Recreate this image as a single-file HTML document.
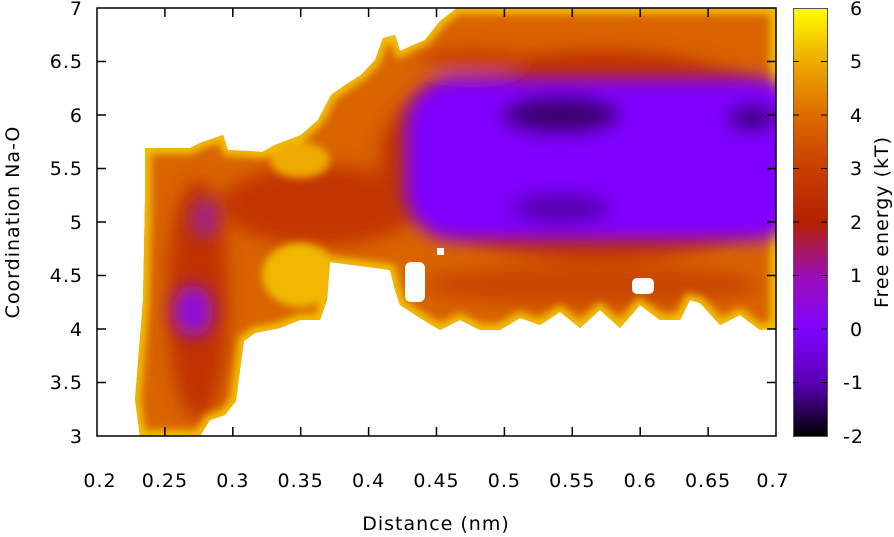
<!DOCTYPE html>
<html><head><meta charset="utf-8"><style>
body{margin:0;background:#fff}
svg{display:block;font-family:"DejaVu Sans","Liberation Sans",sans-serif;font-size:19px;letter-spacing:1px}
</style></head><body>
<svg width="894" height="537" viewBox="0 0 894 537" xmlns="http://www.w3.org/2000/svg">
<defs>
<clipPath id="reg"><polygon id="outl" points="145,148 190,148 200,143 223,135 228,150 249,151 262,152 275,145 301,135 318,120 331,95 345,85 361,75 375,60 383,38 395,35 400,51 425,40 440,21 457,8 776,8 776,328 760,330 740,315 720,325 700,303 690,300 680,320 660,320 640,305 620,328 600,310 580,328 560,312 540,325 520,318 500,330 480,330 460,320 440,330 420,318 400,305 395,290 390,270 330,262 327,300 320,320 300,320 280,328 255,333 244,341 240,370 236,401 225,415 210,420 200,436 140,436 135,400 143,300 145,200"/></clipPath>
<filter id="bl" x="-20%" y="-20%" width="140%" height="140%"><feGaussianBlur stdDeviation="9"/></filter>
<filter id="bl2" x="-20%" y="-20%" width="140%" height="140%"><feGaussianBlur stdDeviation="4"/></filter>
<linearGradient id="cb" x1="0" y1="0" x2="0" y2="1">
<stop offset="0" stop-color="#ffff00"/><stop offset="0.125" stop-color="#eeab00"/><stop offset="0.25" stop-color="#dd6b00"/><stop offset="0.375" stop-color="#c93e00"/><stop offset="0.5" stop-color="#b52000"/><stop offset="0.625" stop-color="#9c0db5"/><stop offset="0.75" stop-color="#8004ff"/><stop offset="0.875" stop-color="#5a00b5"/><stop offset="1" stop-color="#000000"/>
</linearGradient>
</defs>
<g clip-path="url(#reg)">
<rect x="97" y="8" width="679" height="428" fill="#d96400"/>
<g filter="url(#bl)">
<ellipse cx="198" cy="300" rx="30" ry="120" fill="#c03000"/>
<ellipse cx="320" cy="205" rx="100" ry="40" fill="#c23600"/>
<ellipse cx="600" cy="155" rx="220" ry="105" fill="#c03000"/>
<ellipse cx="590" cy="285" rx="170" ry="20" fill="#c84400"/>
</g>
<g filter="url(#bl2)">
<use href="#outl" fill="none" stroke="#f3c000" stroke-width="12"/>
<ellipse cx="300" cy="275" rx="38" ry="32" fill="#f0b800"/>
<ellipse cx="300" cy="160" rx="30" ry="18" fill="#eeaa00"/>
</g>
<g filter="url(#bl)">
<rect x="405" y="78" width="400" height="162" rx="50" fill="#8000ff"/>
<ellipse cx="470" cy="60" rx="50" ry="12" fill="#c84000"/>
<ellipse cx="561" cy="115" rx="60" ry="20" fill="#3c0070"/>
<ellipse cx="561" cy="208" rx="50" ry="16" fill="#5800b0"/>
<ellipse cx="752" cy="118" rx="25" ry="14" fill="#40007a"/>
<ellipse cx="193" cy="311" rx="20" ry="26" fill="#9010e0"/>
<ellipse cx="205" cy="218" rx="14" ry="20" fill="#a02090"/>
</g>
<g fill="#fff">
<rect x="632" y="278" width="22" height="16" rx="5"/>
<rect x="437" y="248" width="7" height="7"/>
<rect x="352" y="294" width="10" height="8"/>
<rect x="405" y="262" width="20" height="40" rx="6"/>
</g>
</g>
<rect x="793" y="8" width="34" height="428" fill="url(#cb)"/>
<g stroke="#000" stroke-width="1" fill="none">
<rect x="793.5" y="8.5" width="34" height="428" stroke="#555"/>
<path d="M793,382.5h6M821,382.5h6M793,329h6M821,329h6M793,275.5h6M821,275.5h6M793,222h6M821,222h6M793,168.5h6M821,168.5h6M793,115h6M821,115h6M793,61.5h6M821,61.5h6"/>
</g>
<g stroke="#000" stroke-width="1.5" fill="none">
<rect x="97" y="8" width="679" height="428"/>
<path d="M164.9,8v9M232.8,8v9M300.7,8v9M368.6,8v9M436.5,8v9M504.4,8v9M572.3,8v9M640.2,8v9M708.1,8v9M164.9,436v-9M232.8,436v-9M300.7,436v-9M368.6,436v-9M436.5,436v-9M504.4,436v-9M572.3,436v-9M640.2,436v-9M708.1,436v-9"/>
<path d="M97,61.5h9M97,115h9M97,168.5h9M97,222h9M97,275.5h9M97,329h9M97,382.5h9M776,61.5h-9M776,115h-9M776,168.5h-9M776,222h-9M776,275.5h-9M776,329h-9M776,382.5h-9"/>
</g>
<g text-anchor="end" fill="#000">
<text x="83" y="15">7</text><text x="83" y="68">6.5</text><text x="83" y="122">6</text><text x="83" y="175">5.5</text><text x="83" y="229">5</text><text x="83" y="282">4.5</text><text x="83" y="336">4</text><text x="83" y="389">3.5</text><text x="83" y="443">3</text>
</g>
<g text-anchor="middle" fill="#000">
<text x="100" y="487">0.2</text><text x="164.9" y="487">0.25</text><text x="232.8" y="487">0.3</text><text x="300.7" y="487">0.35</text><text x="368.6" y="487">0.4</text><text x="436.5" y="487">0.45</text><text x="504.4" y="487">0.5</text><text x="572.3" y="487">0.55</text><text x="640.2" y="487">0.6</text><text x="708.1" y="487">0.65</text><text x="773" y="487">0.7</text>
<text x="436" y="530">Distance (nm)</text>
<text transform="translate(19,222) rotate(-90)">Coordination Na-O</text>
<text transform="translate(888,222) rotate(-90)">Free energy (kT)</text>
</g>
<g fill="#000">
<text x="850" y="15">6</text><text x="850" y="68">5</text><text x="850" y="122">4</text><text x="850" y="175">3</text><text x="850" y="229">2</text><text x="850" y="282">1</text><text x="850" y="336">0</text><text x="843" y="389">-1</text><text x="843" y="443">-2</text>
</g>
</svg>
</body></html>
